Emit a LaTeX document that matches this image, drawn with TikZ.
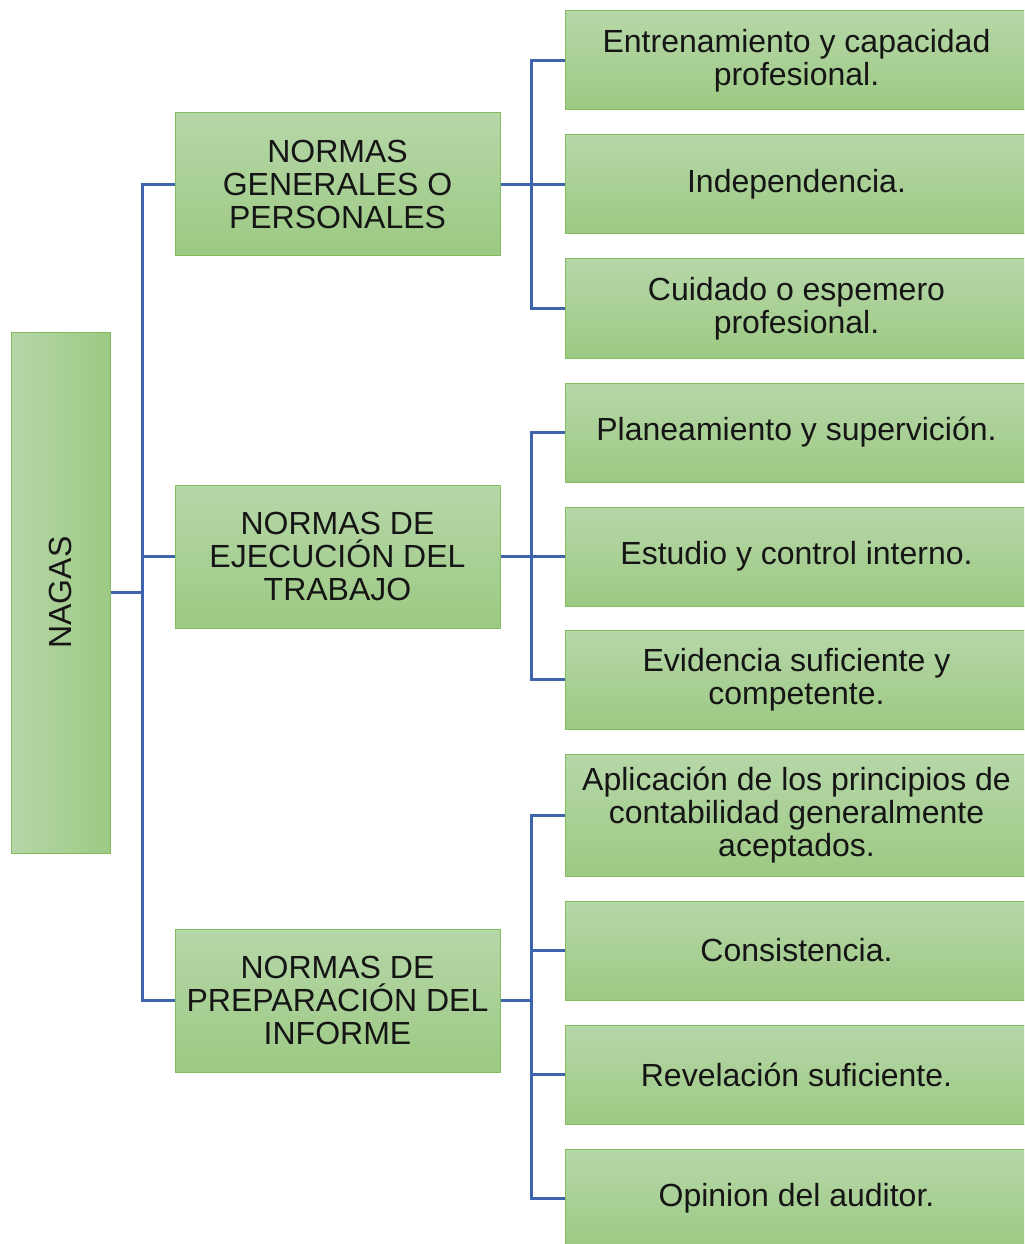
\documentclass[tikz,border=0pt]{standalone}
\usepackage{fontspec}
\setmainfont{Liberation Sans}
\definecolor{gtop}{HTML}{B6D7A8}
\definecolor{gbot}{HTML}{9CC983}
\definecolor{gborder}{HTML}{82BC5E}
\definecolor{conncol}{HTML}{3D64AD}
\definecolor{txt}{HTML}{151515}
\begin{document}
\begin{tikzpicture}[x=0.75pt,y=-0.75pt,
  box/.style={draw=gborder,line width=0.75pt,top color=gtop,bottom color=gbot,
    text=txt,align=center,inner sep=0pt,
    font=\fontsize{24pt}{24.75pt}\selectfont},
  midbox/.style={box,minimum width=243.75pt,minimum height=107.25pt},
  rbox/.style={box,minimum width=347.25pt,minimum height=74.25pt},
  conn/.style={draw=conncol,line width=1.9pt}]
\useasboundingbox (0,0) rectangle (1024,1244);
\clip (0,0) rectangle (1024,1244);
% root
\node[draw=gborder,line width=0.75pt,left color=gtop,right color=gbot,
  minimum width=74.25pt,minimum height=390.75pt,inner sep=0pt] (nagas) at (60.5,592.5) {};
\node[text=txt,rotate=90,font=\fontsize{24pt}{24.75pt}\selectfont] (nagast) at (nagas.center) {NAGAS};
% middle level
\node[midbox] (g1) at (337.5,184.5) {NORMAS\\GENERALES O\\PERSONALES};
\node[midbox] (g2) at (337.5,556.5) {NORMAS DE\\EJECUCIÓN DEL\\TRABAJO};
\node[midbox] (g3) at (337.5,1000.5) {NORMAS DE\\PREPARACIÓN DEL\\INFORME};
% right level
\node[rbox] (r1) at (796.5,60.5) {Entrenamiento y capacidad\\profesional.};
\node[rbox] (r2) at (796.5,184.5) {Independencia.};
\node[rbox] (r3) at (796.5,308.5) {Cuidado o espemero\\profesional.};
\node[rbox] (r4) at (796.5,432.5) {Planeamiento y supervición.};
\node[rbox] (r5) at (796.5,556.5) {Estudio y control interno.};
\node[rbox] (r6) at (796.5,679.5) {Evidencia suficiente y\\competente.};
\node[rbox,minimum height=91.5pt] (r7) at (796.5,815.5) {Aplicación de los principios de\\contabilidad generalmente\\aceptados.};
\node[rbox] (r8) at (796.5,950.5) {Consistencia.};
\node[rbox] (r9) at (796.5,1074.5) {Revelación suficiente.};
\node[rbox] (r10) at (796.5,1198.5) {Opinion del auditor.};
% connectors
\coordinate (t0) at ([xshift=-24pt]g1.west);
\draw[conn] (nagas.east) -- (nagas.east -| t0);
\draw[conn] (g1.west) -- ++(-32,0) |- (g3.west);
\draw[conn] (g2.west) -- ++(-32,0);
\draw[conn] (g1.east) -- (r2.west);
\draw[conn] (r1.west) -- ++(-33,0) |- (r3.west);
\draw[conn] (g2.east) -- (r5.west);
\draw[conn] (r4.west) -- ++(-33,0) |- (r6.west);
\draw[conn] (g3.east) -- ++(32,0);
\draw[conn] (r7.west) -- ++(-33,0) |- (r10.west);
\draw[conn] (r8.west) -- ++(-33,0);
\draw[conn] (r9.west) -- ++(-33,0);
\end{tikzpicture}
\end{document}
